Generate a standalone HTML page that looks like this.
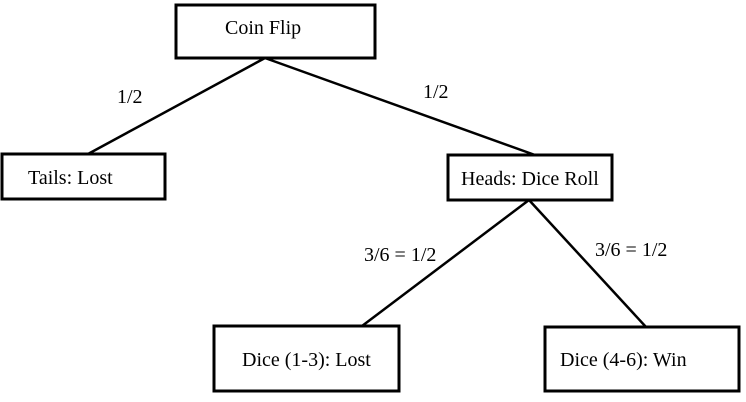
<!DOCTYPE html>
<html><head><style>
body{margin:0;background:#fff;}
svg{display:block;}
text{font-family:"Liberation Serif",serif;font-size:20px;fill:#000;}
</style></head><body>
<svg width="746" height="402" viewBox="0 0 746 402" xmlns="http://www.w3.org/2000/svg">
<g fill="none" stroke="#000" stroke-width="3">
<rect x="176" y="5" width="199" height="53"/>
<rect x="2" y="154" width="163" height="45"/>
<rect x="448" y="155" width="164" height="45"/>
<rect x="214" y="326" width="185" height="65"/>
<rect x="545" y="327" width="194" height="64"/>
</g>
<g stroke="#000" stroke-width="2.5">
<line x1="265" y1="58" x2="88" y2="154"/>
<line x1="265" y1="58" x2="535" y2="155"/>
<line x1="529" y1="200" x2="362" y2="326"/>
<line x1="529" y1="200" x2="646" y2="327"/>
</g>
<text x="225" y="34">Coin Flip</text>
<text x="117" y="103">1/2</text>
<text x="423" y="98">1/2</text>
<text x="28" y="184">Tails: Lost</text>
<text x="461" y="185">Heads: Dice Roll</text>
<text x="364" y="261">3/6 = 1/2</text>
<text x="595" y="256">3/6 = 1/2</text>
<text x="242" y="366">Dice (1-3): Lost</text>
<text x="560" y="366">Dice (4-6): Win</text>
</svg>
</body></html>
